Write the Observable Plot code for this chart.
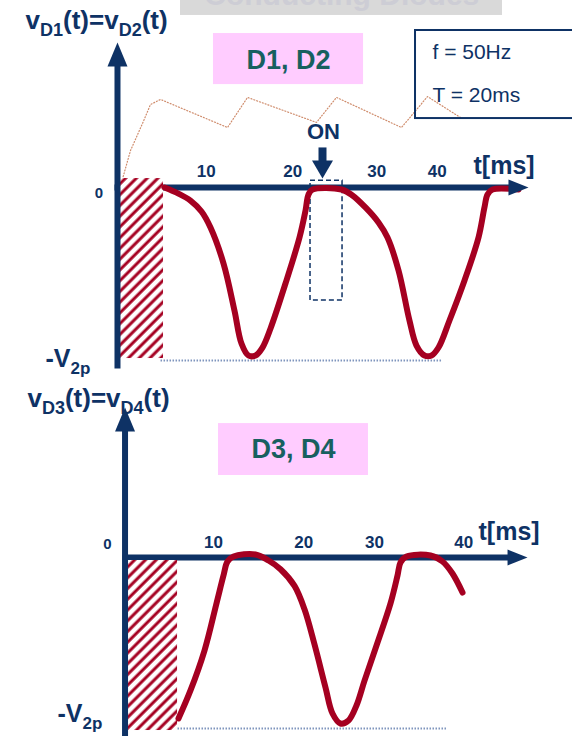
<!DOCTYPE html>
<html>
<head>
<meta charset="utf-8">
<script src="https://cdn.jsdelivr.net/npm/d3@7"></script>
<script src="https://cdn.jsdelivr.net/npm/@observablehq/plot@0.6"></script>
<style>
  html, body { margin: 0; padding: 0; background: #fff; }
  #chart { width: 572px; }
  #chart svg { display: block; overflow: visible; }
</style>
</head>
<body>
<div id="chart"></div>
<script>
// Reverse voltage across the bridge-rectifier diodes at f = 50 Hz.
// Time in ms, voltage normalised to the secondary peak V2p (0 … -1).

const tickLabels = ["10", "20", "30", "40"];
const topTickAt = [9.9, 19.8, 29.4, 36.3];
const bottomTickAt = [10.4, 20.7, 28.8, 39.0];

// vD1(t) = vD2(t)
const d12Time = [5.14, 6.74, 8.11, 9.37, 10.4, 11.89, 13.14, 13.94, 14.74, 15.54,
                 16.34, 17.26, 18.97, 20.57, 21.26, 21.6, 22.06, 25.37, 26.63, 28.11,
                 29.6, 30.63, 31.89, 33.14, 33.94, 34.86, 35.66, 36.46, 37.71, 39.43,
                 41.03, 41.71, 42.06, 42.63, 45.6];
const d12Volt = [0, -0.036, -0.077, -0.142, -0.237, -0.45, -0.728, -0.923, -0.994, -0.994,
                 -0.947, -0.834, -0.568, -0.296, -0.136, -0.041, -0.012, -0.012, -0.047, -0.118,
                 -0.207, -0.296, -0.491, -0.787, -0.935, -0.994, -0.994, -0.947, -0.787, -0.55,
                 -0.296, -0.118, -0.041, -0.012, -0.012];

// vD3(t) = vD4(t)
const d34Time = [6.4, 7.77, 9.37, 10.74, 11.54, 12.0, 12.69, 15.2, 16.69, 18.06,
                 19.66, 20.8, 21.94, 23.2, 24.0, 24.91, 25.83, 26.74, 27.66, 29.03,
                 30.63, 31.43, 31.77, 32.46, 35.2, 36.57, 37.71, 38.86];
const d34Volt = [-0.964, -0.796, -0.557, -0.275, -0.108, -0.024, 0.006, 0.018, -0.018, -0.07,
                 -0.17, -0.31, -0.52, -0.778, -0.934, -0.994, -0.976, -0.886, -0.737, -0.527,
                 -0.275, -0.108, -0.03, 0.006, 0.012, -0.024, -0.096, -0.21];

// dotted ripple trace of the filtered output
const rippleTime = [0.23, 1.26, 2.63, 3.54, 4.69, 12.34, 14.63, 22.51, 24.8, 32.23, 35.2, 38.97];
const rippleVolt = [0.03, 0.219, 0.379, 0.491, 0.521, 0.355, 0.533, 0.385, 0.533, 0.355, 0.538, 0.414];

const zip = (ts, vs) => ts.map((t, i) => ({t, v: vs[i]}));

// ---- styling ----
const NAVY = "#0e3265";
const RED = "#a50021";
const PINK = "#ffccff";
const TEAL = "#17605f";
const FONT = "Liberation Sans, Arial, sans-serif";

// ---- layout of each panel, in (t, v) units ----
const TOP = {
  height: 380, xRange: [119, 469], yRange: [356, 187],
  title: {x: -10.74, y: 0.935, text: "v_{D1}(t)=v_{D2}(t)"},
  yAxis: {x: -0.23, y1: -1.071, y2: 0.73, tip: 0.858},
  xAxis: {y: 0, x1: -0.57, x2: 44.6, tip: 46.74},
  hatch: {x1: 0.11, x2: 5.03, y1: 0.053, y2: -1.012},
  floor: {x1: 4.69, x2: 36.9, y: -1.024},
  zero: {x: -2.34, y: -0.036},
  vpeak: {x: -8.46, y: -1.065},
  tickY: 0.095,
  unit: {x: 40.46, y: 0.077},
  tag: {x1: 10.74, x2: 27.89, y1: 0.911, y2: 0.609, tx: 19.31, ty: 0.751, text: "D1, D2"}
};
const BOTTOM = {
  height: 356, xRange: [122, 472], yRange: [344, 177],
  title: {x: -10.86, y: 0.904, text: "v_{D3}(t)=v_{D4}(t)"},
  yAxis: {x: 0.29, y1: -1.1, y2: 0.77, tip: 0.898},
  xAxis: {y: 0, x1: 0, x2: 44.2, tip: 46.29},
  hatch: {x1: 0.57, x2: 6.29, y1: -0.018, y2: -1.036},
  floor: {x1: 3.2, x2: 37.1, y: -1.024},
  zero: {x: -1.71, y: 0.078},
  vpeak: {x: -7.43, y: -0.985},
  tickY: 0.09,
  unit: {x: 40.69, y: 0.102},
  tag: {x1: 10.97, x2: 28.11, y1: 0.802, y2: 0.491, tx: 19.54, ty: 0.647, text: "D3, D4"}
};
const heading = {x1: 6.97, x2: 43.77, y1: 1.018, y2: 1.3, tx: 25.4, ty: 1.078, text: "Conducting Diodes"};
const infoBox = {x1: 33.83, x2: 53, y1: 0.929, y2: 0.408, tx: 35.77, lines: [{y: 0.799, s: "f = 50Hz"}, {y: 0.544, s: "T = 20ms"}]};
const onWindow = {x1: 21.83, x2: 25.49, y1: 0.04, y2: -0.669};
const onMarker = {x: 23.2, y1: 0.237, y2: 0.15, tip: 0.053, tx: 23.31, ty: 0.331, text: "ON"};

// filled arrowheads, tip at the anchor point
const headUp = (len, half) => ({draw(c) { c.moveTo(0, 0); c.lineTo(half, len); c.lineTo(-half, len); c.closePath(); }});
const headRight = (len, half) => ({draw(c) { c.moveTo(0, 0); c.lineTo(-len, half); c.lineTo(-len, -half); c.closePath(); }});
const headDown = (len, half) => ({draw(c) { c.moveTo(0, 0); c.lineTo(-half, -len); c.lineTo(half, -len); c.closePath(); }});

const one = [0];

function frameMarks(P, hatchId) {
  return [
    Plot.link(one, {x1: P.floor.x1, x2: P.floor.x2, y1: P.floor.y, y2: P.floor.y,
      stroke: "#7f95bd", strokeWidth: 2, strokeDasharray: "1.5 1.5"}),
    Plot.link(one, {x1: P.xAxis.x1, x2: P.xAxis.x2, y1: P.xAxis.y, y2: P.xAxis.y,
      stroke: NAVY, strokeWidth: 6, strokeLinecap: "butt"}),
    Plot.rect(one, {x1: P.hatch.x1, x2: P.hatch.x2, y1: P.hatch.y1, y2: P.hatch.y2, fill: `url(#${hatchId})`}),
    Plot.link(one, {x1: P.yAxis.x, x2: P.yAxis.x, y1: P.yAxis.y1, y2: P.yAxis.y2,
      stroke: NAVY, strokeWidth: 6, strokeLinecap: "butt"}),
    Plot.dot(one, {x: P.yAxis.x, y: P.yAxis.tip, r: 1, symbol: headUp(24, 10), fill: NAVY, stroke: "none"})
  ];
}

function labelMarks(P, tickAt) {
  return [
    Plot.dot(one, {x: P.xAxis.tip, y: P.xAxis.y, r: 1, symbol: headRight(20, 8), fill: NAVY, stroke: "none"}),
    Plot.rect(one, {x1: P.tag.x1, x2: P.tag.x2, y1: P.tag.y1, y2: P.tag.y2, fill: PINK}),
    Plot.text(one, {x: P.tag.tx, y: P.tag.ty, text: () => P.tag.text, fill: TEAL,
      fontSize: 27, fontWeight: "bold", fontFamily: FONT}),
    Plot.text(one, {x: P.title.x, y: P.title.y, text: () => P.title.text, fill: NAVY,
      fontSize: 26, fontWeight: "bold", fontFamily: FONT, textAnchor: "start", lineAnchor: "bottom"}),
    Plot.text(one, {x: P.zero.x, y: P.zero.y, text: () => "0", fill: NAVY,
      fontSize: 15, fontWeight: "bold", fontFamily: FONT}),
    Plot.text(one, {x: P.vpeak.x, y: P.vpeak.y, text: () => "-V_{2p}", fill: NAVY,
      fontSize: 25, fontWeight: "bold", fontFamily: FONT, textAnchor: "start", lineAnchor: "bottom"}),
    Plot.text(tickLabels, {x: (d, i) => tickAt[i], y: P.tickY, text: d => d, fill: NAVY,
      fontSize: 17, fontWeight: "bold", fontFamily: FONT}),
    Plot.text(one, {x: P.unit.x, y: P.unit.y, text: () => "t[ms]", fill: NAVY,
      fontSize: 25, fontWeight: "bold", fontFamily: FONT, textAnchor: "start", lineAnchor: "bottom"})
  ];
}

function panel(P, marks) {
  return Plot.plot({
    width: 572, height: P.height, margin: 0,
    x: {domain: [0, 40], range: P.xRange, axis: null},
    y: {domain: [-1, 0], range: P.yRange, axis: null},
    style: {fontFamily: FONT, background: "white", overflow: "visible"},
    marks
  });
}

function addHatch(svg, id) {
  const p = d3.select(svg).insert("defs", ":first-child").append("pattern")
    .attr("id", id).attr("patternUnits", "userSpaceOnUse")
    .attr("width", 7.6).attr("height", 7.6).attr("patternTransform", "rotate(45)");
  p.append("rect").attr("width", 7.6).attr("height", 7.6).attr("fill", "white");
  p.append("line").attr("x1", 2).attr("x2", 2).attr("y1", 0).attr("y2", 7.6)
    .attr("stroke", RED).attr("stroke-width", 3);
}

// turn "_{…}" runs into lowered, smaller tspans
function applySubscripts(svg) {
  d3.select(svg).selectAll("text").each(function () {
    const s = this.textContent;
    if (!s.includes("_{")) return;
    const size = parseFloat(getComputedStyle(this).fontSize);
    const sub = Math.round(size * 0.68), drop = Math.round(size * 0.26);
    const parts = s.split(/_\{([^}]*)\}/);
    const el = d3.select(this).text(null);
    parts.forEach((p, i) => {
      if (!p) return;
      const ts = el.append("tspan").text(p);
      if (i % 2) ts.attr("font-size", sub).attr("dy", drop);
      else if (i > 0) ts.attr("dy", -drop);
    });
  });
}

// ---- upper panel: D1, D2 ----
const topPlot = panel(TOP, [
  Plot.rect(one, {x1: heading.x1, x2: heading.x2, y1: heading.y1, y2: heading.y2, fill: "#d9d9d9"}),
  Plot.text(one, {x: heading.tx, y: heading.ty, text: () => heading.text, fill: "#cdcdd5",
    fontSize: 30, fontWeight: "bold", fontFamily: FONT, lineAnchor: "bottom"}),
  Plot.line(zip(rippleTime, rippleVolt), {x: "t", y: "v", stroke: "#cf8c6c",
    strokeWidth: 1.2, strokeDasharray: "1 2"}),
  ...frameMarks(TOP, "hatchTop"),
  Plot.rect(one, {x1: onWindow.x1, x2: onWindow.x2, y1: onWindow.y1, y2: onWindow.y2,
    fill: "none", stroke: NAVY, strokeWidth: 1.5, strokeDasharray: "5 3"}),
  Plot.line(zip(d12Time, d12Volt), {x: "t", y: "v", curve: "catmull-rom", stroke: RED,
    strokeWidth: 6, strokeLinejoin: "round", strokeLinecap: "round"}),
  Plot.link(one, {x1: onMarker.x, x2: onMarker.x, y1: onMarker.y1, y2: onMarker.y2,
    stroke: NAVY, strokeWidth: 8, strokeLinecap: "butt"}),
  Plot.dot(one, {x: onMarker.x, y: onMarker.tip, r: 1, symbol: headDown(18, 10.5), fill: NAVY, stroke: "none"}),
  Plot.text(one, {x: onMarker.tx, y: onMarker.ty, text: () => onMarker.text, fill: NAVY,
    fontSize: 22, fontWeight: "bold", fontFamily: FONT}),
  Plot.rect(one, {x1: infoBox.x1, x2: infoBox.x2, y1: infoBox.y1, y2: infoBox.y2,
    fill: "none", stroke: NAVY, strokeWidth: 2}),
  Plot.text(infoBox.lines, {x: infoBox.tx, y: "y", text: "s", fill: NAVY,
    fontSize: 21, fontFamily: FONT, textAnchor: "start"}),
  ...labelMarks(TOP, topTickAt)
]);

// ---- lower panel: D3, D4 ----
const bottomPlot = panel(BOTTOM, [
  ...frameMarks(BOTTOM, "hatchBottom"),
  Plot.line(zip(d34Time, d34Volt), {x: "t", y: "v", curve: "catmull-rom", stroke: RED,
    strokeWidth: 6, strokeLinejoin: "round", strokeLinecap: "round"}),
  ...labelMarks(BOTTOM, bottomTickAt)
]);

addHatch(topPlot, "hatchTop");
addHatch(bottomPlot, "hatchBottom");
const host = document.getElementById("chart");
host.append(topPlot, bottomPlot);
applySubscripts(topPlot);
applySubscripts(bottomPlot);
</script>
</body>
</html>
